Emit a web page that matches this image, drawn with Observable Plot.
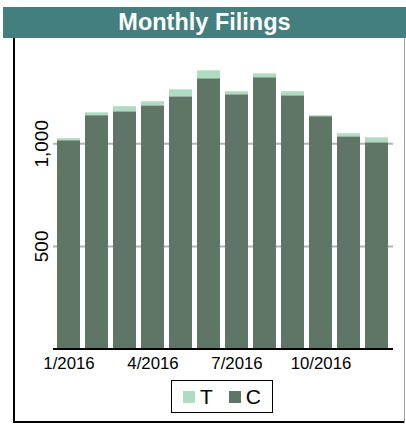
<!DOCTYPE html>
<html>
<head>
<meta charset="utf-8">
<script src="https://cdn.jsdelivr.net/npm/d3@7"></script>
<script src="https://cdn.jsdelivr.net/npm/@observablehq/plot@0.6"></script>
<style>
  html, body { margin: 0; padding: 0; background: #fff; }
  body { width: 406px; height: 424px; position: relative; overflow: hidden; font-family: "Liberation Sans", Arial, sans-serif; }
  #title { position: absolute; left: 3px; top: 7px; width: 403px; height: 31px; background: #427f7e; color: #fff; font-weight: bold; font-size: 23.5px; line-height: 31px; text-align: center; }
  #lline { position: absolute; left: 13px; top: 38px; width: 2px; height: 385px; background: #000; }
  #bline { position: absolute; left: 13px; top: 421px; width: 391px; height: 2px; background: #000; }
  #rline { position: absolute; left: 404px; top: 38px; width: 1px; height: 385px; background: #a0a0a0; }
  #chart { position: absolute; left: 0; top: 38px; }
  #legend { position: absolute; left: 171px; top: 380px; width: 100px; height: 31px; border: 1px solid #000; display: flex; align-items: center; justify-content: center; font-size: 21px; gap: 0; }
  .item { display: flex; align-items: center; }
  .sw { width: 12px; height: 12px; margin-right: 5px; }
</style>
</head>
<body>
<div id="title">Monthly Filings</div>
<div id="chart"></div>
<div id="lline"></div>
<div id="bline"></div>
<div id="rline"></div>
<div id="legend"></div>
<script>
const months = ["1/2016","2/2016","3/2016","4/2016","5/2016","6/2016","7/2016","8/2016","9/2016","10/2016","11/2016","12/2016"];
const seriesC = [1015,1137,1156,1185,1229,1317,1239,1322,1234,1132,1034,1005];
const seriesT = [10,14,25,20,34,39,15,19,20,5,15,24];
const xTicks = ["1/2016","4/2016","7/2016","10/2016"];
const yTicks = [500, 1000];
const seriesNames = ["T","C"];
const seriesColors = ["#aedcc0","#5f7565"];

const rows = [];
months.forEach((m, i) => {
  rows.push({month: m, series: "C", value: seriesC[i]});
  rows.push({month: m, series: "T", value: seriesT[i]});
});

const chart = Plot.plot({
  width: 406,
  height: 340,
  marginLeft: 53,
  marginRight: 13,
  marginTop: 2.7,
  marginBottom: 29.5,
  style: {fontFamily: "'Liberation Sans', Arial, sans-serif", color: "#000", background: "transparent"},
  x: {domain: months, paddingInner: 0.17, paddingOuter: 0.09, axis: null},
  y: {domain: [0, 1500], axis: null},
  color: {domain: seriesNames, range: seriesColors},
  marks: [
    Plot.ruleY(yTicks, {stroke: "#b3b3b3", strokeWidth: 2}),
    Plot.barY(rows, {x: "month", y: "value", fill: "series"}),
    Plot.ruleY([0], {stroke: "#000", strokeWidth: 2}),
    Plot.axisX({ticks: xTicks, tickSize: 0, tickPadding: 8, fontSize: 16.8, fill: "#000", label: null}),
    Plot.text(yTicks, {y: d => d, text: d => d3.format(",")(d), frameAnchor: "left", dx: -12, rotate: -90, textAnchor: "middle", lineAnchor: "middle", fontSize: 19, fill: "#000"})
  ]
});
document.getElementById("chart").appendChild(chart);

const legend = document.getElementById("legend");
seriesNames.forEach((name, i) => {
  const item = document.createElement("div");
  item.className = "item";
  if (i > 0) item.style.marginLeft = "16px";
  const sw = document.createElement("div");
  sw.className = "sw";
  sw.style.background = seriesColors[i];
  const label = document.createElement("span");
  label.textContent = name;
  item.appendChild(sw);
  item.appendChild(label);
  legend.appendChild(item);
});
</script>
</body>
</html>
